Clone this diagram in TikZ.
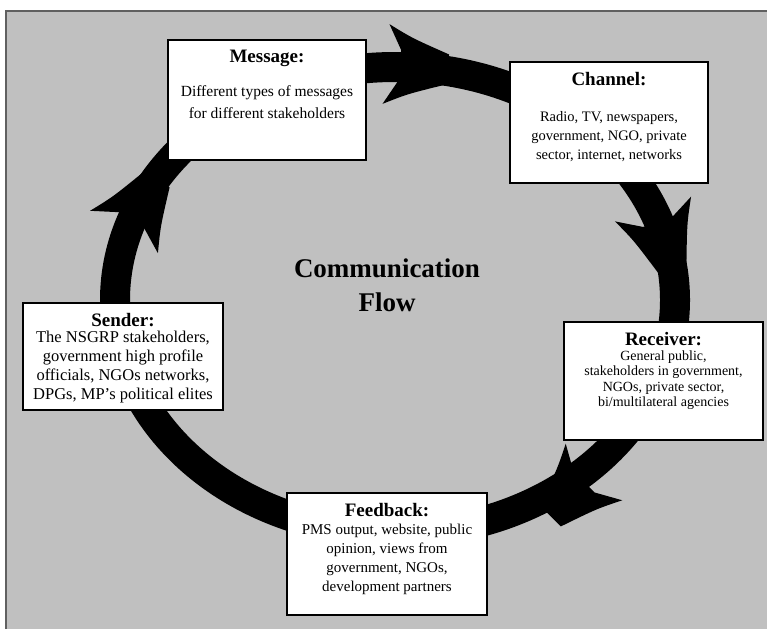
\documentclass[tikz,border=0pt]{standalone}
\usepackage{fontspec}
\setmainfont{Liberation Serif}
\usetikzlibrary{positioning}
\definecolor{panel}{RGB}{192,192,192}
\definecolor{panelrule}{RGB}{96,96,96}
\tikzstyle{box}=[draw, line width=2.5pt, fill=white, inner sep=0pt]
\tikzstyle{boxtext}=[align=center, inner sep=0pt, font=\fontsize{15}{19}\selectfont]
\tikzstyle{ring}=[line width=30pt]
\newcommand{\boxtitle}[1]{{\fontsize{19}{20}\selectfont\bfseries #1}}

\begin{document}
\begin{tikzpicture}[x=1pt, y=-1pt]
    \useasboundingbox (0,0) rectangle (767,629);
% Panel
    \fill[panel] (6,11) rectangle (767,629);
    \draw[panelrule, line width=2pt] (6,629) -- (6,11) -- (767,11);
% Flow ring
    \draw[ring] (395,300) ellipse [x radius=280pt, y radius=233pt];
% Arrow heads
    \fill[shift={(386,64)}, rotate=-5] (14,-15) -- (0,-40) .. controls (24,-28) .. (62,-15) -- (62,15) .. controls (24,28) .. (0,40) -- (14,15) -- cycle;
    \fill[shift={(653,209)}, rotate=-72] (14,-15) -- (0,-40) .. controls (24,-28) .. (62,-15) -- (62,15) .. controls (24,28) .. (0,40) -- (14,15) -- cycle;
    \fill[shift={(594,472)}, rotate=-135] (14,-15) -- (0,-40) .. controls (24,-28) .. (62,-15) -- (62,15) .. controls (24,28) .. (0,40) -- (14,15) -- cycle;
    \fill[shift={(124,232)}, rotate=58] (14,-15) -- (0,-40) .. controls (24,-28) .. (62,-15) -- (62,15) .. controls (24,28) .. (0,40) -- (14,15) -- cycle;
% Boxes
    \node[box, minimum width=198pt, minimum height=120pt] (message) at (267,100) {};
    \node[box, minimum width=198pt, minimum height=121pt] (channel) at (609,122.5) {};
    \node[box, minimum width=200pt, minimum height=107pt] (sender) at (123,356.5) {};
    \node[box, minimum width=199pt, minimum height=118pt] (receiver) at (663.5,381) {};
    \node[box, minimum width=200pt, minimum height=122pt] (feedback) at (387,554) {};
% Texts
    \node[boxtext, font=\fontsize{15.5}{22}\selectfont, below=11.5pt of message.north] (message text)
        {\boxtitle{Message:}\\[12pt]Different types of messages\\for different stakeholders};
    \node[boxtext, font=\fontsize{14.5}{19}\selectfont, below=11.5pt of channel.north] (channel text)
        {\boxtitle{Channel:}\\[17pt]Radio, TV, newspapers,\\government, NGO, private\\sector, internet, networks};
    \node[boxtext, font=\fontsize{16.5}{19}\selectfont, below=11.5pt of sender.north] (sender text)
        {\boxtitle{Sender:}\\[-3pt]The NSGRP stakeholders,\\government high profile\\officials, NGOs networks,\\DPGs, MP's political elites};
    \node[boxtext, font=\fontsize{14}{15.5}\selectfont, below=11.5pt of receiver.north] (receiver text)
        {\boxtitle{Receiver:}\\[-1pt]General public,\\stakeholders in government,\\NGOs, private sector,\\bi/multilateral agencies};
    \node[boxtext, below=11.5pt of feedback.north] (feedback text)
        {\boxtitle{Feedback:}\\[-1pt]PMS output, website, public\\opinion, views from\\government, NGOs,\\development partners};
    \node[align=center, inner sep=0pt, font=\fontsize{27}{34}\selectfont\bfseries] (flow) at (387,285)
        {Communication\\Flow};
\end{tikzpicture}
\end{document}
